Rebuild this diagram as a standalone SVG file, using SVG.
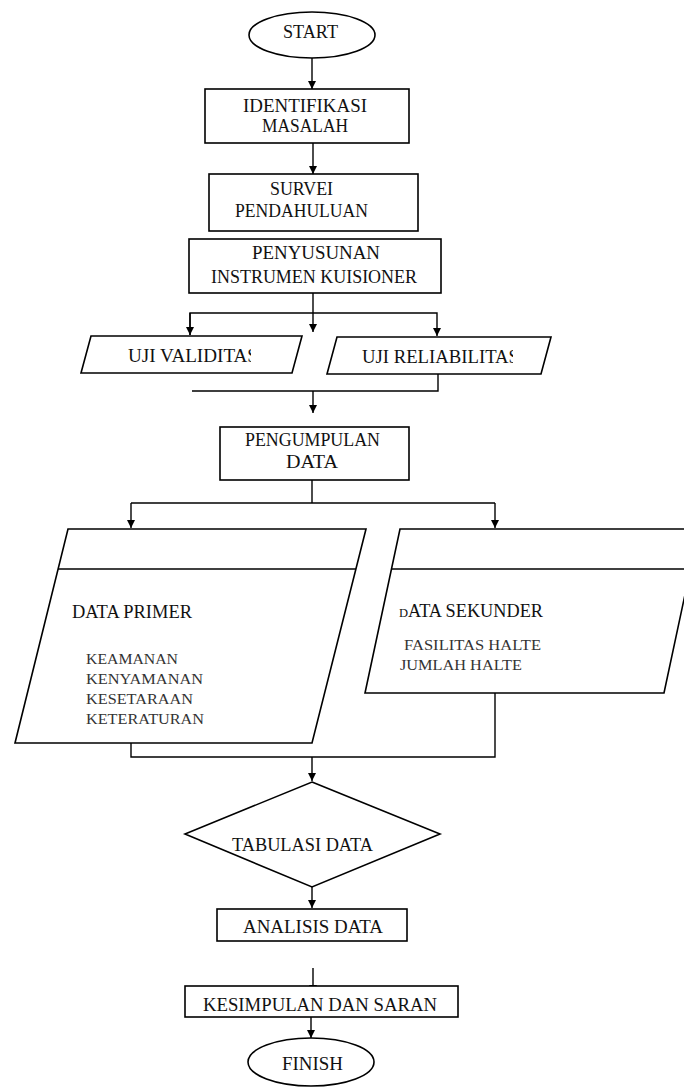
<svg xmlns="http://www.w3.org/2000/svg" width="684" height="1087" viewBox="0 0 684 1087">
<style>
.s{fill:#fff;stroke:#000;stroke-width:1.6}
.c{fill:none;stroke:#000;stroke-width:1.4}
.t{font-family:"Liberation Serif","Times New Roman",serif;font-size:19px;fill:#111}
.m{font-family:"Liberation Serif","Times New Roman",serif;font-size:15px;fill:#333}
</style>
<defs>
<marker id="a" markerUnits="userSpaceOnUse" markerWidth="8" markerHeight="8" refX="8" refY="4" orient="auto">
<path d="M0,0 L8,4 L0,8 z" fill="#000"/>
</marker>
<clipPath id="cv"><rect x="80" y="330" width="171" height="50"/></clipPath>
<clipPath id="cr"><rect x="320" y="330" width="193" height="50"/></clipPath>
</defs>
<g id="connectors" class="c">
<line x1="312" y1="58" x2="312" y2="89" marker-end="url(#a)"/>
<line x1="313" y1="143" x2="313" y2="174" marker-end="url(#a)"/>
<line x1="313" y1="293" x2="313" y2="332" marker-end="url(#a)"/>
<polyline points="190,335 190,313 437,313 437,336" marker-end="url(#a)"/>
<line x1="190" y1="313" x2="190" y2="335" marker-end="url(#a)"/>
<polyline points="438,374 438,391 192,391"/>
<line x1="313" y1="391" x2="313" y2="413" marker-end="url(#a)"/>
<polyline points="312,480 312,503"/>
<polyline points="131,503 495,503"/>
<line x1="131" y1="503" x2="131" y2="528" marker-end="url(#a)"/>
<line x1="495" y1="503" x2="495" y2="528" marker-end="url(#a)"/>
<polyline points="131,743 131,757 495,757 495,693"/>
<line x1="312" y1="757" x2="312" y2="781" marker-end="url(#a)"/>
<line x1="312" y1="887" x2="312" y2="908" marker-end="url(#a)"/>
<line x1="313" y1="968" x2="313" y2="993" marker-end="url(#a)"/>
<line x1="311" y1="1017" x2="311" y2="1038" marker-end="url(#a)"/>
</g>
<g id="start">
<ellipse class="s" cx="312" cy="35" rx="63" ry="23"/>
<text class="t" x="283" y="38" textLength="55" lengthAdjust="spacingAndGlyphs">START</text>
</g>
<g id="identifikasi">
<rect class="s" x="205" y="89" width="204" height="54"/>
<text class="t" x="243" y="112" textLength="124" lengthAdjust="spacingAndGlyphs">IDENTIFIKASI</text>
<text class="t" x="262" y="132" textLength="86" lengthAdjust="spacingAndGlyphs">MASALAH</text>
</g>
<g id="survei">
<rect class="s" x="209" y="174" width="209" height="57"/>
<text class="t" x="270" y="195" textLength="63" lengthAdjust="spacingAndGlyphs">SURVEI</text>
<text class="t" x="235" y="217" textLength="133" lengthAdjust="spacingAndGlyphs">PENDAHULUAN</text>
</g>
<g id="penyusunan">
<rect class="s" x="189" y="239" width="252" height="54"/>
<text class="t" x="252" y="259" textLength="128" lengthAdjust="spacingAndGlyphs">PENYUSUNAN</text>
<text class="t" x="211" y="283" textLength="206" lengthAdjust="spacingAndGlyphs">INSTRUMEN KUISIONER</text>
</g>
<g id="uji-validitas">
<polygon class="s" points="91,336 302,336 292,373 81,373"/>
<text class="t" x="128" y="362" textLength="130" lengthAdjust="spacingAndGlyphs" clip-path="url(#cv)">UJI VALIDITAS</text>
</g>
<g id="uji-reliabilitas">
<polygon class="s" points="337,337 551,337 541,374 327,374"/>
<text class="t" x="362" y="363" textLength="157" lengthAdjust="spacingAndGlyphs" clip-path="url(#cr)">UJI RELIABILITAS</text>
</g>
<g id="pengumpulan">
<rect class="s" x="220" y="427" width="189" height="53"/>
<text class="t" x="245" y="446" textLength="135" lengthAdjust="spacingAndGlyphs">PENGUMPULAN</text>
<text class="t" x="286" y="468" textLength="52" lengthAdjust="spacingAndGlyphs">DATA</text>
</g>
<g id="data-primer">
<polygon class="s" points="68,529 366,529 312,743 15,743"/>
<line class="c" x1="58" y1="569" x2="356" y2="569"/>
<text class="t" x="72" y="618" textLength="120" lengthAdjust="spacingAndGlyphs">DATA PRIMER</text>
<text class="m" x="86" y="664" textLength="92" lengthAdjust="spacingAndGlyphs">KEAMANAN</text>
<text class="m" x="86" y="684" textLength="117" lengthAdjust="spacingAndGlyphs">KENYAMANAN</text>
<text class="m" x="86" y="704" textLength="107" lengthAdjust="spacingAndGlyphs">KESETARAAN</text>
<text class="m" x="86" y="724" textLength="118" lengthAdjust="spacingAndGlyphs">KETERATURAN</text>
</g>
<g id="data-sekunder">
<polygon class="s" points="400,529 699,529 664,693 365,693"/>
<line class="c" x1="391" y1="569" x2="690" y2="569"/>
<text class="t" x="399" y="617" textLength="144" lengthAdjust="spacingAndGlyphs"><tspan font-size="13">D</tspan>ATA SEKUNDER</text>
<text class="m" x="404" y="650" textLength="137" lengthAdjust="spacingAndGlyphs">FASILITAS HALTE</text>
<text class="m" x="400" y="670" textLength="122" lengthAdjust="spacingAndGlyphs">JUMLAH HALTE</text>
</g>
<g id="tabulasi">
<polygon class="s" points="312,782 440,834 312,887 185,834"/>
<text class="t" x="232" y="851" textLength="141" lengthAdjust="spacingAndGlyphs">TABULASI DATA</text>
</g>
<g id="analisis">
<rect class="s" x="217" y="909" width="190" height="32"/>
<text class="t" x="243" y="933" textLength="140" lengthAdjust="spacingAndGlyphs">ANALISIS DATA</text>
</g>
<g id="kesimpulan">
<rect class="s" x="185" y="986" width="273" height="31"/>
<text class="t" x="203" y="1011" textLength="234" lengthAdjust="spacingAndGlyphs">KESIMPULAN DAN SARAN</text>
</g>
<g id="finish">
<ellipse class="s" cx="311" cy="1062" rx="63" ry="24"/>
<text class="t" x="282" y="1070" textLength="61" lengthAdjust="spacingAndGlyphs">FINISH</text>
</g>
</svg>
